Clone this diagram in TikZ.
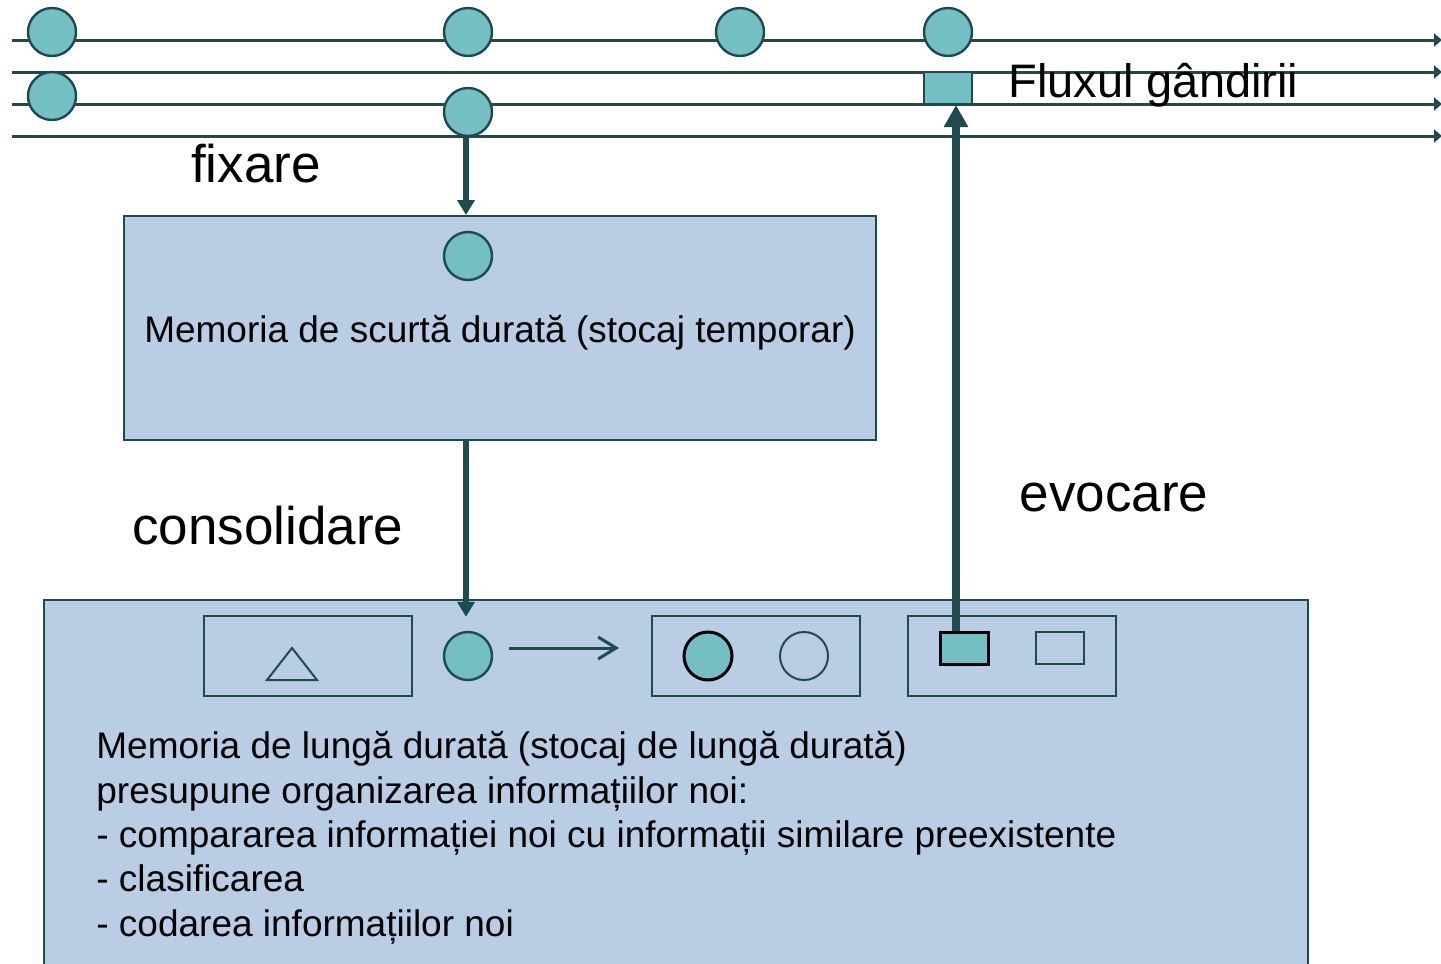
\documentclass[tikz,border=0pt]{standalone}
\usepackage{fontspec}
\setmainfont{Liberation Sans}
\usetikzlibrary{arrows.meta,positioning,calc}
\definecolor{dotfill}{RGB}{116,191,196}
\definecolor{boxfill}{RGB}{185,205,229}
\definecolor{darkline}{RGB}{31,74,78}

\begin{document}
\begin{tikzpicture}[
  x=0.5pt, y=-0.5pt,
  dot/.style={circle, draw=darkline, fill=dotfill, line width=1.2pt, minimum size=24pt, inner sep=0pt},
  ring/.style={circle, draw=darkline, line width=1pt, minimum size=24pt, inner sep=0pt},
  tile/.style={draw=darkline, line width=1pt, minimum width=24pt, minimum height=16pt, inner sep=0pt},
  memory/.style={draw=darkline, fill=boxfill, line width=1pt, inner sep=0pt},
  slot/.style={draw=darkline, line width=1pt, minimum width=104pt, minimum height=40pt, inner sep=0pt},
  flow/.style={darkline, line width=1.5pt, -{Triangle[length=4pt,width=6.5pt]}},
  link/.style={darkline, line width=3pt, -{Triangle[length=7.5pt,width=8.5pt]}},
  biglink/.style={darkline, line width=4pt, -{Triangle[length=11pt,width=11.5pt]}},
  bigtext/.style={font=\fontsize{26.5}{31}\selectfont, inner sep=0pt},
  boxtext/.style={font=\fontsize{18.5}{22.2}\selectfont, inner sep=0pt}
]
\useasboundingbox (0,0) rectangle (1441,964);

% fluxul gandirii
\foreach \y [count=\i] in {40,72,104,136} {
  \coordinate (s\i) at (12,\y);
  \coordinate (e\i) at (1442,\y);
  \draw[flow] (s\i) -- (e\i);
}

% memory boxes
\node[memory, minimum width=376pt, minimum height=112pt] (stm) at (500,328) {};
\node[boxtext] (stmtext) at (500,333) {Memoria de scurtă durată (stocaj temporar)};
\node[memory, minimum width=632pt, minimum height=195pt] (ltm) at (676,795) {};

% thoughts on the stream
\node[dot] (d1) at (52,32) {};
\node[dot] (d2) at (468,32) {};
\node[dot] (d3) at (740,32) {};
\node[dot] (d4) at (948,32) {};
\node[dot] (d5) at (52,96) {};
\node[dot] (d6) at (468,112) {};
\node[tile, fill=dotfill] (sq) at (948,88) {};
\node[font=\fontsize{23.5}{28}\selectfont, anchor=base west, inner sep=0pt] (flux) at (1008,97) {Fluxul gândirii};

% short term
\node[dot] (d7) at (468,256) {};

% long term
\node[slot] (slotA) at (308,656) {};
\node[slot] (slotB) at (756,656) {};
\node[slot] (slotC) at (1012,656) {};
\draw[darkline, line width=1pt] (267,680) -- (317,680) -- (292,648) -- cycle;
\node[dot] (d8) at (468,656) {};
\node[dot, draw=black, line width=1.5pt] (d9) at (708,656) {};
\node[ring] (d10) at (804,656) {};
\node[tile, draw=black, line width=1.5pt, fill=dotfill] (r1) at (964,648) {};
\node[tile] (r2) at (1060,648) {};
\draw[darkline, line width=1.5pt, -{Straight Barb[length=9pt,width=11pt]}]
  ([xshift=8pt,yshift=4pt]d8.east) -- ([xshift=-16pt,yshift=4pt]slotB.west);

\node[boxtext, anchor=north west, align=left] (ltmtext) at (96,731)
  {Memoria de lungă durată (stocaj de lungă durată)\\
   presupune organizarea informațiilor noi:\\
   - compararea informației noi cu informații similare preexistente\\
   - clasificarea\\
   - codarea informațiilor noi};

% connectors
\coordinate (fx) at (466,0);
\coordinate (ev) at (956,0);
\draw[link] (d6.south -| fx) -- (stm.north -| fx);
\draw[link, shorten >=7pt] (stm.south -| fx) -- (d8.north -| fx);
\draw[biglink] (r1.north -| ev) -- (sq.south -| ev);

\node[bigtext, anchor=base] (fix) at (256,182) {fixare};
\node[bigtext, anchor=base] (cons) at (268,544) {consolidare};
\node[bigtext, anchor=base] (evo) at (1114,511) {evocare};

\end{tikzpicture}
\end{document}
